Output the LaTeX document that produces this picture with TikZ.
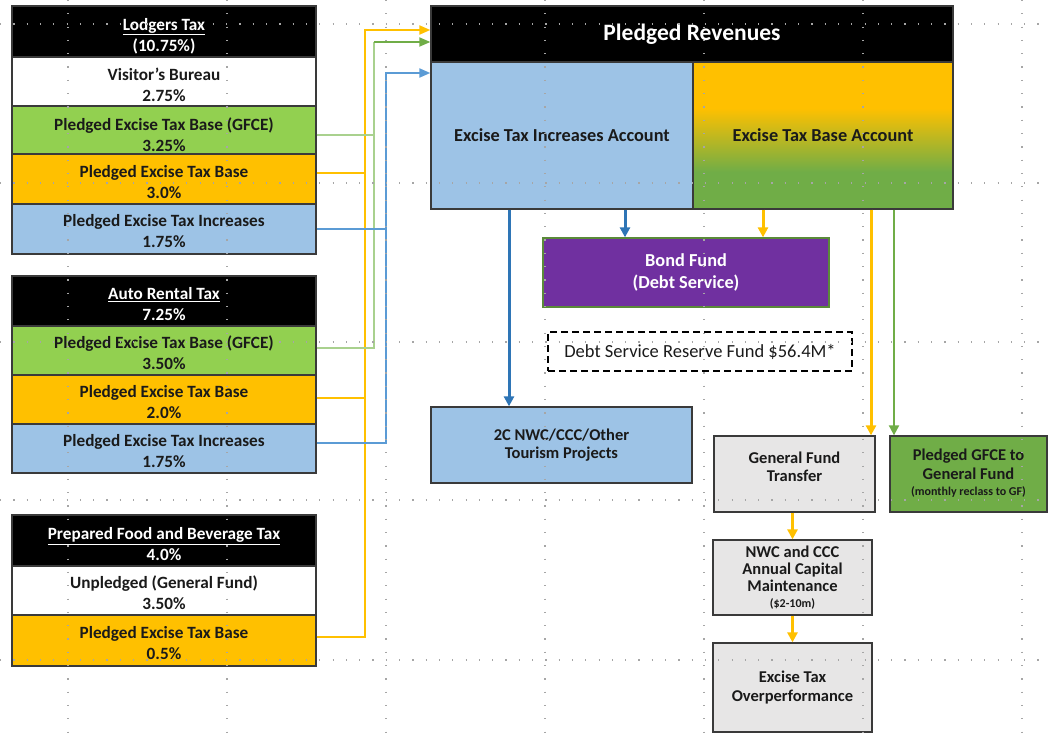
\documentclass[tikz,border=0pt]{standalone}
\usepackage{fontspec}
\setmainfont{Carlito}
\usetikzlibrary{arrows.meta}
\definecolor{cGreen}{HTML}{92D050}
\definecolor{cOrange}{HTML}{FFC000}
\definecolor{cBlue}{HTML}{9DC3E6}
\definecolor{cLine}{HTML}{5B9BD5}
\definecolor{cArrowBlue}{HTML}{2E75B6}
\definecolor{cPurple}{HTML}{7030A0}
\definecolor{cGray}{HTML}{E7E6E6}
\definecolor{cDGreen}{HTML}{70AD47}
\definecolor{cLGreen}{HTML}{A9D18E}
\definecolor{cBorder}{HTML}{3A3A3A}
\definecolor{cText}{HTML}{1A1A1A}
\begin{document}
\begin{tikzpicture}[x=1pt,y=-1pt,
  lbox/.style={draw=cBorder, line width=1.4pt, minimum width=304pt, inner sep=0pt},
  ltext/.style={inner sep=0pt, align=center, text=cText, font=\bfseries\fontsize{17.2}{21}\selectfont},
  rbox/.style={draw=cBorder, line width=1.3pt, inner sep=0pt, align=center, text=cText,
     font=\bfseries\fontsize{16.5}{18.5}\selectfont},
  txt/.style={inner sep=0pt, align=center, text=cText, font=\bfseries\fontsize{16.5}{18.5}\selectfont},
  small/.style={font=\bfseries\fontsize{12}{14}\selectfont},
  yl/.style={draw=cOrange, line width=2pt},
  gl/.style={draw=cLGreen, line width=2.4pt},
  bl/.style={draw=cLine, line width=2pt},
  ltip/.style={-{Triangle[length=11pt,width=9pt]}},
  dtip/.style={-{Triangle[length=10pt,width=10pt]}},
  grid/.style={draw=gray!70, line width=1.2pt, dash pattern=on 1.2pt off 12.1pt}
]
\useasboundingbox (0,0) rectangle (1049,733);

% ---------- Lodgers Tax ----------
\node[lbox, fill=black, minimum height=51pt] (lhead) at (164,31.5) {};
\node[lbox, fill=white, minimum height=49pt] (lvis) at (164,81.5) {};
\node[lbox, fill=cGreen, minimum height=48pt] (lgreen) at (164,130) {};
\node[lbox, fill=cOrange, minimum height=50pt] (lorange) at (164,179) {};
\node[lbox, fill=cBlue, minimum height=50pt] (lblue) at (164,229) {};
\node[ltext, text=white] (lheadt) at (164,36) {\underline{Lodgers Tax}\\(10.75\%)};
\node[ltext] (lvist) at (164,85) {Visitor’s Bureau\\2.75\%};
\node[ltext] (lgreent) at (164,134.5) {Pledged Excise Tax Base (GFCE)\\3.25\%};
\node[ltext] (loranget) at (164,182.5) {Pledged Excise Tax Base\\3.0\%};
\node[ltext] (lbluet) at (164,231.5) {Pledged Excise Tax Increases\\1.75\%};

% ---------- Auto Rental Tax ----------
\node[lbox, fill=black, minimum height=50pt] (ahead) at (164,301) {};
\node[lbox, fill=cGreen, minimum height=49pt] (agreen) at (164,350.5) {};
\node[lbox, fill=cOrange, minimum height=49pt] (aorange) at (164,399.5) {};
\node[lbox, fill=cBlue, minimum height=49pt] (ablue) at (164,448.5) {};
\node[ltext, text=white] (aheadt) at (164,304) {\underline{Auto Rental Tax}\\7.25\%};
\node[ltext] (agreent) at (164,353) {Pledged Excise Tax Base (GFCE)\\3.50\%};
\node[ltext] (aoranget) at (164,402) {Pledged Excise Tax Base\\2.0\%};
\node[ltext] (abluet) at (164,451) {Pledged Excise Tax Increases\\1.75\%};

% ---------- Prepared Food ----------
\node[lbox, fill=black, minimum height=51pt] (phead) at (164,540.5) {};
\node[lbox, fill=white, minimum height=49pt] (pwhite) at (164,590.5) {};
\node[lbox, fill=cOrange, minimum height=51pt] (porange) at (164,640.5) {};
\node[ltext, text=white] (pheadt) at (164,544) {\underline{Prepared Food and Beverage Tax}\\4.0\%};
\node[ltext] (pwhitet) at (164,593) {Unpledged (General Fund)\\3.50\%};
\node[ltext] (poranget) at (164,643) {Pledged Excise Tax Base\\0.5\%};

% ---------- Pledged Revenues ----------
\fill[cOrange] (693,62) rectangle (953,108);
\shade[top color=cOrange, bottom color=cDGreen] (693,108) rectangle (953,172);
\fill[cDGreen] (693,172) rectangle (953,209);
\node[rbox, fill=black, text=white, minimum width=522pt, minimum height=56pt,
  font=\bfseries\fontsize{23.5}{26}\selectfont] (prhead) at (692,34) {Pledged Revenues};
\node[rbox, fill=cBlue, minimum width=262pt, minimum height=147pt,
  font=\bfseries\fontsize{18.3}{21}\selectfont] (inc) at (562,135.5) {Excise Tax Increases Account};
\node[rbox, minimum width=260pt, minimum height=147pt,
  font=\bfseries\fontsize{18.3}{21}\selectfont] (base) at (823,135.5) {Excise Tax Base Account};

% ---------- lower boxes ----------
\node[rbox, draw=cDGreen!80!black, fill=cPurple, text=white, minimum width=286pt, minimum height=69pt,
  font=\bfseries\fontsize{18.3}{22}\selectfont] (bond) at (686,272.5) {Bond Fund\\(Debt Service)};
\node[draw=black, line width=2pt, dash pattern=on 7pt off 4pt, minimum width=304pt, minimum height=39pt, inner sep=0pt,
  text=cText, font=\fontsize{18.5}{20}\selectfont] (dsrf) at (700,351.5) {Debt Service Reserve Fund \$56.4M*};
\node[rbox, fill=cBlue, minimum width=261pt, minimum height=76pt] (proj) at (561.5,445) {2C NWC/CCC/Other\\Tourism Projects};
\node[rbox, fill=cGray, minimum width=161pt, minimum height=76pt] (gft) at (794.5,474) {};
\node[txt] (gfttext) at (794.5,467) {General Fund\\Transfer};
\node[rbox, fill=cDGreen, minimum width=157pt, minimum height=76pt] (gfce) at (968.5,474) {};
\node[txt, anchor=north] (gfcetext) at (968.5,449) {Pledged GFCE to\\General Fund\\[-2pt]{\small\bfseries\fontsize{12}{14}\selectfont (monthly reclass to GF)}};
\node[rbox, fill=cGray, minimum width=159pt, minimum height=75pt] (nwc) at (792.5,577.5)
  {NWC and CCC\\[-1.5pt]Annual Capital\\[-1.5pt]Maintenance\\[-3pt]{\fontsize{12}{13}\selectfont (\$2-10m)}};
\node[rbox, fill=cGray, minimum width=159pt, minimum height=89pt] (over) at (792.5,687.5) {Excise Tax\\Overperformance};

% ---------- left connectors ----------
\coordinate (ybus) at (365,30);
\coordinate (gbus) at (374,42);
\coordinate (bbus) at (386,73);
\draw[yl] ([yshift=6pt]lorange.east) -- ([yshift=6pt]lorange.east -| ybus);
\draw[yl] ([yshift=1.5pt]aorange.east) -- ([yshift=1.5pt]aorange.east -| ybus);
\draw[yl, ltip] ([yshift=3.5pt]porange.east) -| (ybus) -- (ybus -| prhead.west);
\draw[gl] ([yshift=-5pt]lgreen.east) -- ([yshift=-5pt]lgreen.east -| gbus);
\draw[gl] ([yshift=2.5pt]agreen.east) -| (gbus);
\draw[draw=cDGreen, line width=1.8pt, ltip] (gbus) -- (gbus -| prhead.west);
\draw[bl] (lblue.east) -- (lblue.east -| bbus);
\draw[bl, ltip] ([yshift=5.5pt]ablue.east) -| (bbus) -- (bbus -| inc.west);

% ---------- right connectors ----------
\draw[draw=cArrowBlue, line width=3pt, dtip] ([xshift=-53pt]inc.south) -- ([xshift=-53pt]inc.south |- proj.north);
\draw[draw=cArrowBlue, line width=3pt, dtip] ([xshift=63pt]inc.south) -- ([xshift=63pt]inc.south |- bond.north);
\draw[draw=cOrange, line width=3pt, dtip] ([xshift=-60pt]base.south) -- ([xshift=-60pt]base.south |- bond.north);
\draw[draw=cOrange, line width=3pt, dtip] ([xshift=48pt]base.south) -- ([xshift=48pt]base.south |- gft.north);
\draw[draw=cDGreen, line width=2pt, dtip] ([xshift=71pt]base.south) -- ([xshift=71pt]base.south |- gfce.north);
\draw[draw=cOrange, line width=3pt, dtip] (nwc.north |- gft.south) -- (nwc.north);
\draw[draw=cOrange, line width=3pt, dtip] (nwc.south) -- (over.north);

% ---------- page-break dotted grid ----------
\foreach \yy in {24,183,342,500,660} \draw[grid] (0,\yy) -- (1049,\yy);
\foreach \xx in {68,227,386,545,704,863,1022} \draw[grid] (\xx,0) -- (\xx,733);
\end{tikzpicture}
\end{document}
